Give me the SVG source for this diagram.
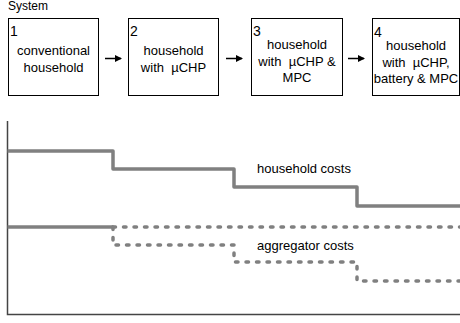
<svg xmlns="http://www.w3.org/2000/svg" width="460" height="323" viewBox="0 0 460 323">
  <style>
    text { font-family: "Liberation Sans", Arial, sans-serif; fill: #000; white-space: pre; }
    .box { fill: #fff; stroke: #000; stroke-width: 1; }
    .num { font-size: 14px; }
    .lbl { font-size: 13px; text-anchor: middle; }
    .cap { font-size: 12px; }
    .arrow { stroke: #000; stroke-width: 1.5; fill: none; marker-end: url(#head); }
    .axis { stroke: #444; stroke-width: 1.5; fill: none; }
    .cost { stroke: #808080; stroke-width: 3.5; fill: none; stroke-linejoin: round; }
    .dot { stroke: #808080; stroke-width: 3.5; fill: none; stroke-linecap: round; stroke-dasharray: 2.5 8; stroke-linejoin: round; }
  </style>
  <defs>
    <marker id="head" markerWidth="7" markerHeight="7" refX="6" refY="3.5" orient="auto" markerUnits="userSpaceOnUse">
      <path d="M0,0 L7,3.5 L0,7 Z" fill="#000"/>
    </marker>
  </defs>

  <text class="cap" x="8" y="9.5">System</text>

  <g id="node1">
    <rect class="box" x="8.5" y="18.5" width="90" height="77"/>
    <text class="num" x="10" y="36">1</text>
    <text class="lbl" x="53.5" y="55">conventional</text>
    <text class="lbl" x="53.5" y="72">household</text>
  </g>
  <g id="node2">
    <rect class="box" x="128.5" y="18.5" width="90" height="77"/>
    <text class="num" x="130" y="36">2</text>
    <text class="lbl" x="173.5" y="55">household</text>
    <text class="lbl" x="173.5" y="72" xml:space="preserve">with  µCHP</text>
  </g>
  <g id="node3">
    <rect class="box" x="251.5" y="18.5" width="91" height="77"/>
    <text class="num" x="253" y="36">3</text>
    <text class="lbl" x="297" y="49">household</text>
    <text class="lbl" x="297" y="65.5" xml:space="preserve">with  µCHP &amp;</text>
    <text class="lbl" x="297" y="82">MPC</text>
  </g>
  <g id="node4">
    <rect class="box" x="372.5" y="18.5" width="87" height="77"/>
    <text class="num" x="374" y="37">4</text>
    <text class="lbl" x="416" y="50">household</text>
    <text class="lbl" x="416" y="66.5" xml:space="preserve">with  µCHP,</text>
    <text class="lbl" x="416" y="83">battery &amp; MPC</text>
  </g>

  <g id="connectors">
    <line class="arrow" x1="105" y1="58.5" x2="121" y2="58.5"/>
    <line class="arrow" x1="226" y1="58.5" x2="242" y2="58.5"/>
    <line class="arrow" x1="348" y1="58.5" x2="364" y2="58.5"/>
  </g>

  <g id="chart">
    <path class="axis" d="M7.5,121 V314.5 H460"/>
    <path class="cost" d="M7.5,151 H113 V169 H234 V187 H357 V206 H460"/>
    <path class="cost" d="M7.5,227 H113"/>
    <path class="dot" d="M113,227 H460"/>
    <path class="dot" d="M113,227 V245 H234 V262 H357 V281 H460"/>
    <text class="lbl" x="257" y="173" style="text-anchor:start">household costs</text>
    <text class="lbl" x="257" y="250" style="text-anchor:start">aggregator costs</text>
  </g>
</svg>
